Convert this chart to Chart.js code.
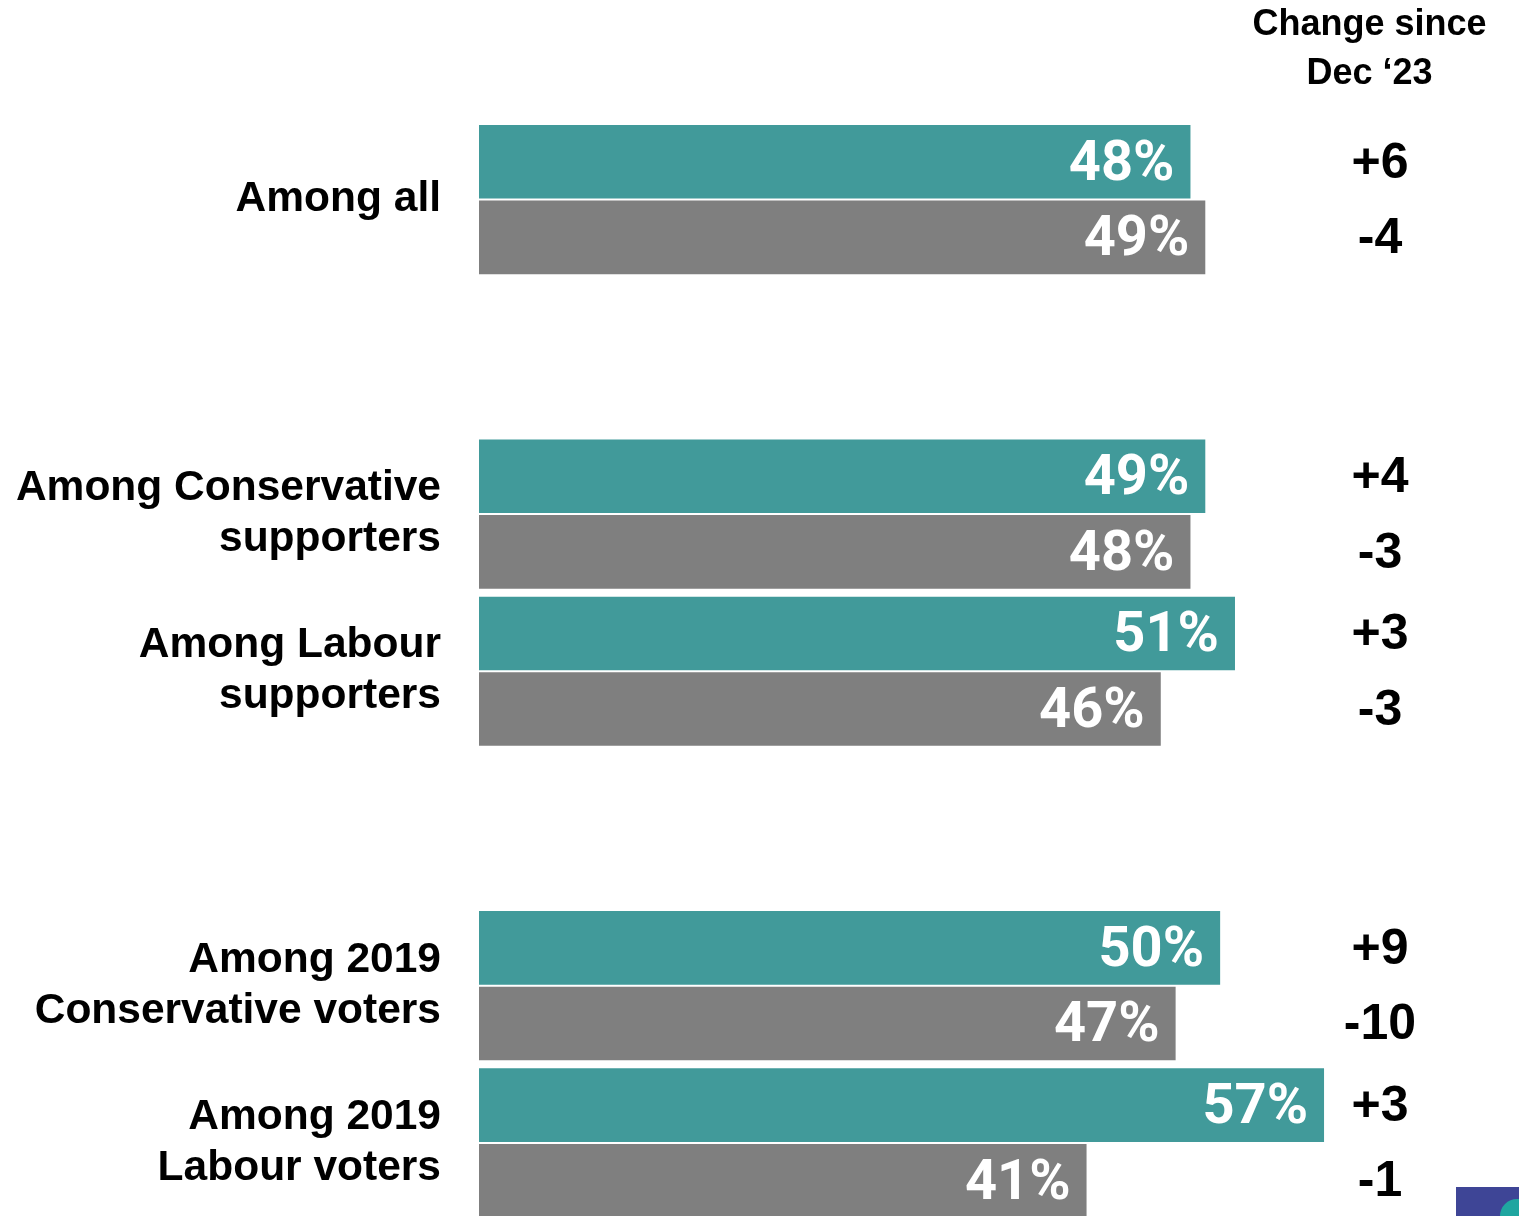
<!DOCTYPE html>
<html>
<head>
<meta charset="utf-8">
<script src="https://cdn.jsdelivr.net/npm/chart.js@4.4.1/dist/chart.umd.min.js"></script>
<style>
  html, body { margin: 0; padding: 0; background: #fff; overflow: hidden; }
  #frame { position: relative; width: 1519px; height: 1216px; overflow: hidden; }
  #wrap { position: absolute; left: 0; top: 0; width: 1519px; height: 1285px; }
  #logo { position: absolute; left: 1456px; top: 1187px; width: 63px; height: 29px; background: #3e4596; overflow: hidden; }
  #logo div { position: absolute; left: 44px; top: 12px; width: 34px; height: 34px; border-radius: 50%; background: #1fa6a0; }
</style>
</head>
<body>
<div id="frame">
  <div id="wrap"><canvas id="bar-chart"></canvas></div>
  <div id="logo"><div></div></div>
</div>
<script>
// Row labels (blank rows are the gaps between blocks)
const categories = [
  ['Among all'],
  '',
  ['Among Conservative', 'supporters'],
  ['Among Labour', 'supporters'],
  '',
  ['Among 2019', 'Conservative voters'],
  ['Among 2019', 'Labour voters']
];

// Percentages for the two answers
const tealValues = [48, null, 49, 51, null, 50, 57];
const greyValues = [49, null, 48, 46, null, 47, 41];

// Change since Dec '23
const tealChange = ['+6', null, '+4', '+3', null, '+9', '+3'];
const greyChange = ['-4', null, '-3', '-3', null, '-10', '-1'];

const changeTitle = ['Change since', 'Dec \u201823'];

const TEAL = '#419a9a';
const GREY = '#7f7f7f';

// Draw the value labels inside the bars and the change column on the right
const labelsPlugin = {
  id: 'barLabels',
  afterDatasetsDraw(chart) {
    const ctx = chart.ctx;
    const xScale = chart.scales.x;
    const changeX = xScale.getPixelForValue(60.7);
    const changes = [tealChange, greyChange];

    ctx.save();
    chart.data.datasets.forEach((ds, di) => {
      const meta = chart.getDatasetMeta(di);
      meta.data.forEach((bar, i) => {
        if (ds.data[i] === null) return;
        ctx.fillStyle = '#fff';
        ctx.font = 'bold 56px Roboto, "Liberation Sans", Arial, sans-serif';
        ctx.textAlign = 'right';
        ctx.textBaseline = 'middle';
        ctx.fillText(ds.data[i] + '%', bar.x - 17, bar.y + 4);

        ctx.fillStyle = '#000';
        ctx.font = 'bold 50px "Liberation Sans", Arial, sans-serif';
        ctx.textAlign = 'center';
        ctx.fillText(changes[di][i], changeX, bar.y + 2);
      });
    });

    // column header
    ctx.fillStyle = '#000';
    ctx.font = 'bold 36px "Liberation Sans", Arial, sans-serif';
    ctx.textAlign = 'center';
    ctx.textBaseline = 'middle';
    const headX = xScale.getPixelForValue(60);
    ctx.fillText(changeTitle[0], headX, 25);
    ctx.fillText(changeTitle[1], headX, 74);
    ctx.restore();
  }
};

const chart = new Chart(document.querySelector('#bar-chart'), {
  type: 'bar',
  data: {
    labels: categories,
    datasets: [{
      label: 'Teal',
      data: tealValues,
      backgroundColor: TEAL,
      borderColor: 'rgba(255,255,255,0.7)',
      borderWidth: 1
    }, {
      label: 'Grey',
      data: greyValues,
      backgroundColor: GREY,
      borderColor: 'rgba(255,255,255,0.7)',
      borderWidth: 1
    }]
  },
  options: {
    indexAxis: 'y',
    responsive: true,
    maintainAspectRatio: false,
    animation: false,
    categoryPercentage: 0.962,
    barPercentage: 1,
    layout: { padding: { top: 121, right: 1, bottom: 0, left: 0 } },
    plugins: {
      legend: { display: false },
      tooltip: { enabled: false }
    },
    scales: {
      x: {
        display: false,
        min: 0,
        max: 70
      },
      y: {
        grid: { display: false, drawTicks: false },
        border: { display: false },
        afterFit(scale) { scale.width = 479; },
        ticks: {
          padding: 38,
          color: '#000',
          font: { family: '"Liberation Sans", Arial, sans-serif', size: 42.5, weight: 'bold', lineHeight: 1.2 }
        }
      }
    }
  },
  plugins: [labelsPlugin]
});
</script>
</body>
</html>
